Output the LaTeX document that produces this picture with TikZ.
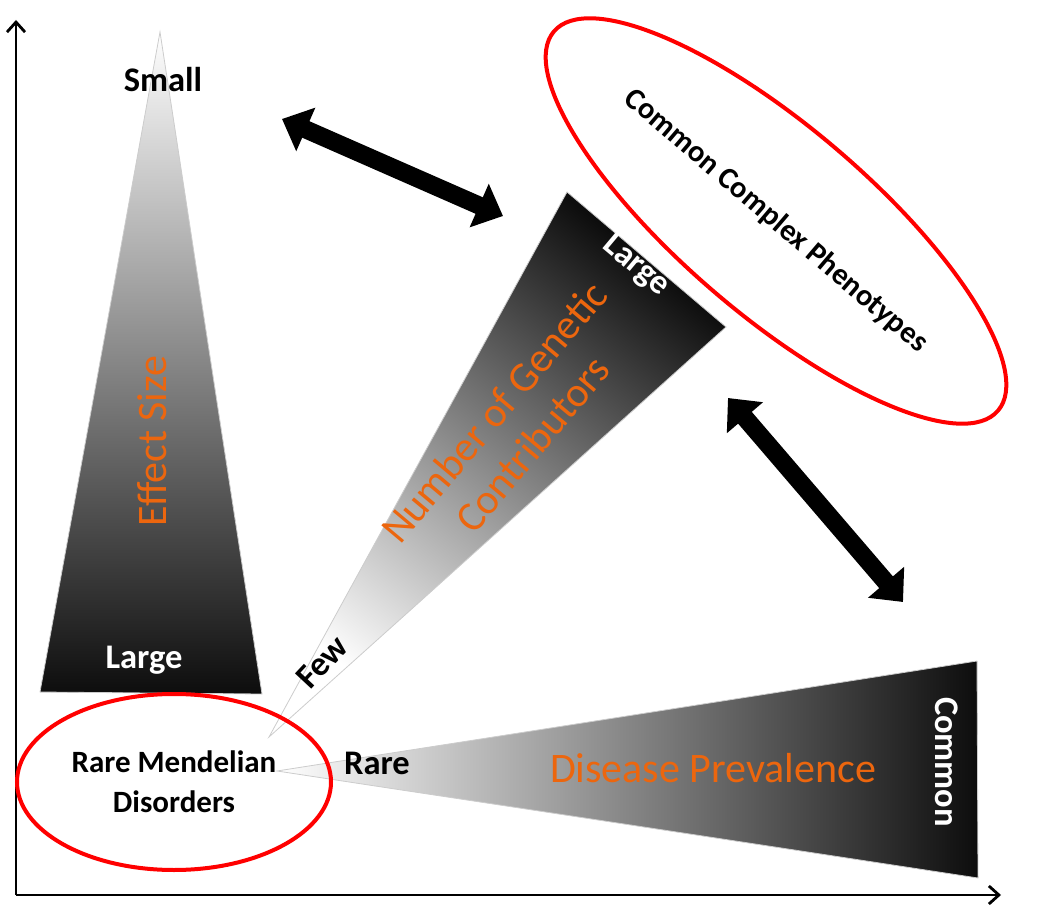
\documentclass[tikz,border=0pt]{standalone}
\usepackage{fontspec}
\setmainfont{Carlito}
\usepackage{tikz}
\usetikzlibrary{positioning}
\usetikzlibrary{shapes}
\usetikzlibrary{arrows.meta}
\definecolor{labelorange}{RGB}{236,102,14}
\tikzset{
    every picture/.append style={
        >={Straight Barb[length=10pt,width=18pt]}
    }
}
\tikzset{
    axis/.style={line width=2.8pt, ->},
    bigarrow/.style={line width=18pt, {Triangle[length=26pt,width=46pt]}-{Triangle[length=26pt,width=46pt]}},
    ring/.style={shape=ellipse, draw=red, line width=4pt, inner sep=0pt},
    tag/.style={font=\bfseries\fontsize{34.5}{38}\selectfont},
    title/.style={text=labelorange, font=\fontsize{42}{50}\selectfont},
    wedge/.style={draw=black!20, line width=0.8pt},
}
\begin{document}
\begin{tikzpicture}[x=1pt, y=-1pt]
		\useasboundingbox (0,0) rectangle (1050,909);
		% axes
		\coordinate (O) at (16,895);
		\coordinate (Y) at (16,20);
		\coordinate (X) at (1001,895);
		\path [axis] (O) edge (Y);
		\path [axis] (O) edge (X);
		
		% the three wedges
		\path [wedge, top color=white, middle color=black!30, bottom color=black!95] (160,32) -- (262,694) -- (40,692) -- cycle;
		\path [wedge, top color=black!95, middle color=black!30, bottom color=white, shading angle=-38] (269,737) -- (567,192) -- (726,327) -- cycle;
		\path [wedge, left color=white, middle color=black!28, right color=black!95] (277,771) -- (977,661) -- (978,878) -- cycle;
		
		\node[tag] (small) at (163,80) {Small};
		\node[tag, text=white] (large1) at (144,660) {Large};
		\node[title, rotate=90] (effect) at (152,441) {Effect Size};
		
		\node[title, rotate=50, align=center] (number) at (513,428) {Number of Genetic\\Contributors};
		\node[tag, text=white, rotate=-40] (large2) at (636,266) {Large};
		\node[tag, rotate=47] (few) at (322,662) {Few};
		
		\node[title] (disease) at (713,768) {Disease Prevalence};
		\node[tag, text=white, rotate=-90] (common) at (947,762) {Common};
		\node[tag] (rare) at (377,763) {Rare};
		
		% the two groups
		\node[ring, minimum width=314pt, minimum height=176pt, align=center, font=\bfseries\fontsize{31}{40}\selectfont] (rmd) at (174,782) {Rare Mendelian\\Disorders};
		\node[ring, minimum width=584pt, minimum height=188pt, rotate=-40.5, font=\bfseries\fontsize{30.5}{36}\selectfont] (ccp) at (776,221) {Common Complex Phenotypes};
		
		\coordinate (s1) at (282,119);
		\coordinate (e1) at (503,216);
		\coordinate (s2) at (728,398);
		\coordinate (e2) at (903,602);
		\path [bigarrow] (s1) edge (e1);
		\path [bigarrow] (s2) edge (e2);
\end{tikzpicture}
\end{document}
